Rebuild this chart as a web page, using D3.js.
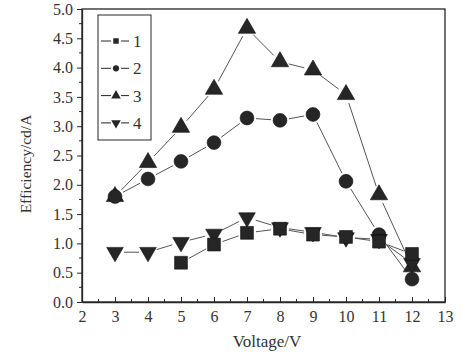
<!DOCTYPE html>
<html><head><meta charset="utf-8">
<script src="https://cdn.jsdelivr.net/npm/d3@7"></script>
<style>body{margin:0;background:#fff}svg{display:block}</style>
</head><body>
<svg id="c" width="465" height="354"></svg>
<script>
const voltage = [3,4,5,6,7,8,9,10,11,12];
const series1 = [null,null,0.67,0.98,1.18,1.25,1.15,1.11,1.03,0.82];
const series2 = [1.80,2.10,2.40,2.72,3.14,3.10,3.20,2.06,1.15,0.39];
const series3 = [1.80,2.38,2.98,3.63,4.67,4.10,3.96,3.54,1.83,0.60];
const series4 = [0.85,0.85,1.02,1.16,1.44,1.27,1.19,1.10,1.07,0.66];
const seriesNames = ["1","2","3","4"];
const xTicks = [2,3,4,5,6,7,8,9,10,11,12,13];
const yTicks = [0,0.5,1,1.5,2,2.5,3,3.5,4,4.5,5];

const svg = d3.select("#c");
const L=82, R=445, T=9, B=302;
const x = d3.scaleLinear().domain([2,13]).range([L,R]);
const y = d3.scaleLinear().domain([0,5]).range([B,T]);
const ink="#262626", lineC="#555";
const font="'Liberation Serif','Times New Roman',serif";

// frame
svg.append("rect").attr("x",L).attr("y",T).attr("width",R-L).attr("height",B-T)
  .attr("fill","none").attr("stroke",ink).attr("stroke-width",1.3);

// x axis
const xa = svg.append("g").attr("transform",`translate(0,${B})`)
  .call(d3.axisBottom(x).tickValues(xTicks).tickFormat(d3.format("d")).tickSizeInner(-5).tickSizeOuter(0).tickPadding(9));
xa.append("g").selectAll("line").data(d3.range(2.5,13,1)).join("line")
  .attr("x1",d=>x(d)).attr("x2",d=>x(d)).attr("y1",0).attr("y2",-3).attr("stroke",ink);
// y axis
const ya = svg.append("g").attr("transform",`translate(${L},0)`)
  .call(d3.axisLeft(y).tickValues(yTicks).tickFormat(d3.format(".1f")).tickSizeInner(5).tickSizeOuter(0).tickPadding(4));
ya.append("g").selectAll("line").data(d3.range(0.25,5,0.5)).join("line")
  .attr("y1",d=>y(d)).attr("y2",d=>y(d)).attr("x1",0).attr("x2",-3).attr("stroke",ink);
[xa,ya].forEach(a=>{
  a.attr("font-family",font);
  a.select(".domain").attr("stroke",ink).attr("stroke-width",1.3);
  a.selectAll(".tick line").attr("stroke",ink);
  a.selectAll("text").attr("font-family",font).attr("font-size",16).attr("fill","#333");
});

// axis titles
svg.append("text").attr("x",267).attr("y",347).attr("text-anchor","middle")
  .attr("font-family",font).attr("font-size",17).attr("fill","#333").text("Voltage/V");
svg.append("text").attr("transform",`translate(31,164) rotate(-90)`).attr("text-anchor","middle")
  .attr("font-family",font).attr("font-size",15.5).attr("fill","#333").text("Efficiency/cd/A");

const shapes=[d3.symbolSquare,d3.symbolCircle,d3.symbolTriangle,d3.symbolTriangle];
const sizes=[165,150,130,120];
const rot=[0,0,0,180];
const all=[series1,series2,series3,series4];

function drawLines(pts,gap){
  for(let i=0;i<pts.length-1;i++){
    const [x1,y1]=pts[i],[x2,y2]=pts[i+1];
    const dx=x2-x1,dy=y2-y1,len=Math.hypot(dx,dy);
    if(len<2*gap+1) continue;
    const ux=dx/len,uy=dy/len;
    svg.append("line").attr("x1",x1+ux*gap).attr("y1",y1+uy*gap)
      .attr("x2",x2-ux*gap).attr("y2",y2-uy*gap)
      .attr("stroke",lineC).attr("stroke-width",1);
  }
}
all.forEach((s,k)=>{
  const pts=voltage.map((v,i)=>[v,s[i]]).filter(d=>d[1]!=null).map(d=>[x(d[0]),y(d[1])]);
  drawLines(pts,9);
});
[2,1,3,0].forEach(k=>{
  const s=all[k];
  const data=voltage.map((v,i)=>[v,s[i]]).filter(d=>d[1]!=null);
  svg.append("g").selectAll("path").data(data).join("path")
    .attr("d",d3.symbol().type(shapes[k]).size(sizes[k]))
    .attr("transform",d=>`translate(${x(d[0])},${y(d[1])}) rotate(${rot[k]})`)
    .attr("fill",ink).attr("stroke","#111").attr("stroke-width",0.6);
});

// legend
svg.append("rect").attr("x",98).attr("y",15).attr("width",53).attr("height",125)
  .attr("fill","#fff").attr("stroke",ink).attr("stroke-width",1);
seriesNames.forEach((n,k)=>{
  const ly=41+k*27.3;
  svg.append("line").attr("x1",101).attr("x2",111).attr("y1",ly).attr("y2",ly).attr("stroke",ink);
  svg.append("line").attr("x1",121).attr("x2",129).attr("y1",ly).attr("y2",ly).attr("stroke",ink);
  svg.append("path").attr("d",d3.symbol().type(shapes[k]).size(k>=2?40:30))
    .attr("transform",`translate(116,${ly}) rotate(${rot[k]})`).attr("fill",ink);
  svg.append("text").attr("x",133).attr("y",ly+6).attr("font-family",font).attr("font-size",17)
    .attr("fill","#333").text(n);
});
</script>
</body></html>
